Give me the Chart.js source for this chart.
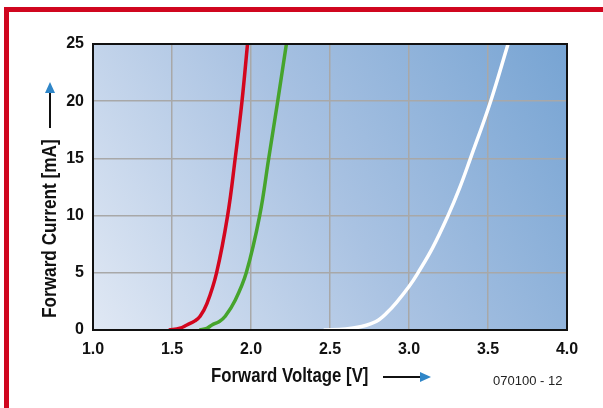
<!DOCTYPE html>
<html>
<head>
<meta charset="utf-8">
<script src="https://cdn.jsdelivr.net/npm/chart.js@4/dist/chart.umd.min.js"></script>
<style>
  html, body { margin: 0; padding: 0; background: #fff; }
  #wrap { width: 603px; height: 408px; position: relative; }
</style>
</head>
<body>
<div id="wrap"><canvas id="ledChart"></canvas></div>
<script>
// LED forward characteristics
const redVolts = [1.48, 1.55, 1.594, 1.645, 1.678, 1.721, 1.782, 1.852, 1.900, 1.943, 1.978];
const redAmps = [0, 0.15, 0.44, 0.8, 1.2, 2.3, 5, 10, 15, 20, 25];
const greenVolts = [1.674, 1.72, 1.753, 1.80, 1.837, 1.90, 1.970, 2.055, 2.112, 2.169, 2.224];
const greenAmps = [0, 0.15, 0.44, 0.75, 1.2, 2.6, 5, 10, 15, 20, 25];
const whiteVolts = [2.46, 2.6, 2.70, 2.76, 2.81, 2.86, 2.92, 3.0, 3.057, 3.15, 3.247, 3.32, 3.389, 3.517, 3.627];
const whiteAmps = [0, 0.08, 0.3, 0.55, 0.9, 1.5, 2.4, 3.8, 5, 7.2, 10, 12.4, 15, 20, 25];

const xTicks = [1.0, 1.5, 2.0, 2.5, 3.0, 3.5, 4.0];
const yTicks = [0, 5, 10, 15, 20, 25];

const xTitle = 'Forward Voltage [V]';
const yTitle = 'Forward Current [mA]';
const figCode = '070100 - 12';

const FONT = "'Liberation Sans', Arial, sans-serif";

const toPoints = (xs, ys) => xs.map((x, i) => ({ x: x, y: ys[i] }));

const arrowHead = (ctx, x, y, dir) => {
  ctx.fillStyle = '#2f86c8';
  ctx.beginPath();
  if (dir === 'right') {
    ctx.moveTo(x, y);
    ctx.lineTo(x - 11, y - 5);
    ctx.lineTo(x - 11, y + 5);
  } else {
    ctx.moveTo(x, y);
    ctx.lineTo(x - 5, y + 11);
    ctx.lineTo(x + 5, y + 11);
  }
  ctx.closePath();
  ctx.fill();
};

// condensed bold text (no narrow font available, so squeeze it)
const narrowText = (ctx, text, x, y, squeeze) => {
  ctx.save();
  ctx.translate(x, y);
  ctx.scale(squeeze, 1);
  ctx.fillText(text, 0, 0);
  ctx.restore();
};

// background gradient, frame, titles and arrows
const decorPlugin = {
  id: 'decor',
  beforeDraw(chart) {
    const { ctx, chartArea: a } = chart;
    ctx.save();
    const g = ctx.createLinearGradient(a.left, a.bottom, a.right, a.top);
    g.addColorStop(0, '#e0e8f4');
    g.addColorStop(0.5, '#a9c2e2');
    g.addColorStop(1, '#77a4d3');
    ctx.fillStyle = g;
    ctx.fillRect(a.left, a.top, a.right - a.left, a.bottom - a.top);
    ctx.restore();
  },
  afterDraw(chart) {
    const { ctx, chartArea: a } = chart;
    ctx.save();
    // plot frame
    ctx.strokeStyle = '#111';
    ctx.lineWidth = 2;
    ctx.strokeRect(a.left, a.top, a.right - a.left, a.bottom - a.top);

    // red page frame
    ctx.fillStyle = '#d0061f';
    ctx.fillRect(4, 7, 599, 5);
    ctx.fillRect(4, 7, 5, 401);

    // x title + arrow
    ctx.fillStyle = '#111';
    ctx.font = 'bold 20px ' + FONT;
    ctx.textAlign = 'left';
    ctx.textBaseline = 'alphabetic';
    narrowText(ctx, xTitle, 211, 382, 0.84);
    ctx.strokeStyle = '#111';
    ctx.lineWidth = 2;
    ctx.beginPath();
    ctx.moveTo(383, 377);
    ctx.lineTo(422, 377);
    ctx.stroke();
    arrowHead(ctx, 431, 377, 'right');

    // y title + arrow
    ctx.save();
    ctx.translate(56, 318);
    ctx.rotate(-Math.PI / 2);
    ctx.fillStyle = '#111';
    narrowText(ctx, yTitle, 0, 0, 0.86);
    ctx.restore();
    ctx.beginPath();
    ctx.moveTo(50, 128);
    ctx.lineTo(50, 92);
    ctx.stroke();
    arrowHead(ctx, 50, 82, 'up');

    // figure code
    ctx.font = '13px ' + FONT;
    ctx.fillStyle = '#222';
    ctx.fillText(figCode, 493, 385);
    ctx.restore();
  },
};

const makeSet = (xs, ys, color) => ({
  data: toPoints(xs, ys),
  borderColor: color,
  borderWidth: 3.5,
  pointRadius: 0,
  fill: false,
  tension: 0.4,
  borderCapStyle: 'butt',
  borderJoinStyle: 'round',
});

const tickFont = { family: FONT, size: 16, weight: 'bold' };

const ledChart = new Chart(document.getElementById('ledChart'), {
  type: 'line',
  data: {
    datasets: [
      makeSet(redVolts, redAmps, '#d3061e'),
      makeSet(greenVolts, greenAmps, '#46a42c'),
      makeSet(whiteVolts, whiteAmps, '#ffffff'),
    ],
  },
  options: {
    responsive: true,
    maintainAspectRatio: false,
    animation: false,
    layout: { padding: { left: 0, top: 44, right: 36, bottom: 0 } },
    plugins: {
      legend: { display: false },
      tooltip: { enabled: false },
    },
    scales: {
      x: {
        type: 'linear',
        min: 1,
        max: 4,
        afterBuildTicks: (scale) => {
          scale.ticks = xTicks.map((v) => ({ value: v }));
        },
        afterFit: (scale) => {
          scale.height = 78;
        },
        border: { display: false },
        grid: { color: '#a8a8a8', lineWidth: 1.5, drawTicks: false },
        ticks: {
          padding: 10,
          color: '#111',
          font: tickFont,
          callback: (v) => Number(v).toFixed(1),
          maxRotation: 0,
        },
      },
      y: {
        min: 0,
        max: 25,
        afterBuildTicks: (scale) => {
          scale.ticks = yTicks.map((v) => ({ value: v }));
        },
        afterFit: (scale) => {
          scale.width = 93;
        },
        border: { display: false },
        grid: { color: '#a8a8a8', lineWidth: 1.5, drawTicks: false },
        ticks: {
          padding: 9,
          color: '#111',
          font: tickFont,
        },
      },
    },
  },
  plugins: [decorPlugin],
});
</script>
</body>
</html>
